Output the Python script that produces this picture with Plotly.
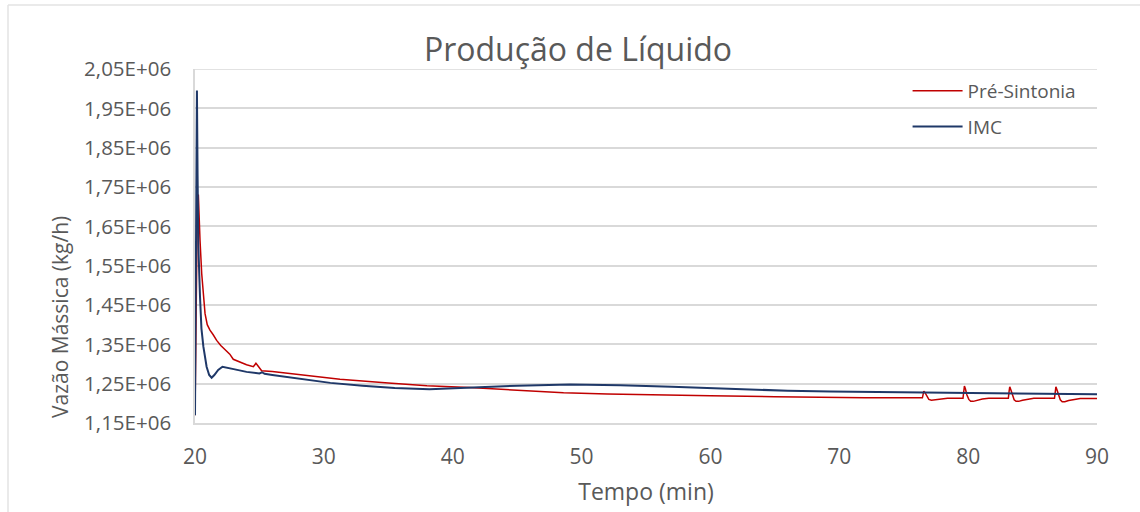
import plotly.graph_objects as go

# Tempo (min) e vazão mássica (kg/h) - controlador com pré-sintonia
t_pre = [20.0, 20.08, 20.18, 20.26, 20.33, 20.39, 20.52, 20.65, 20.78, 20.95, 21.16, 21.4, 21.68, 22.0,
         22.46, 22.7, 22.97, 23.5, 24.0, 24.53, 24.65, 24.73, 24.85, 25.0, 25.17, 26.0, 28.0, 31.25,
         35.0, 38.0, 41.3, 45.0, 48.6, 52.0, 56.0, 60.0, 65.0, 69.3, 72.0,
         76.45, 76.5, 76.56, 76.64, 76.78, 76.95, 77.15, 77.45, 77.9, 78.4,
         79.6, 79.66, 79.71, 79.78, 79.9, 80.05, 80.2, 80.4, 80.7, 81.1, 81.6,
         83.12, 83.18, 83.23, 83.3, 83.42, 83.57, 83.72, 83.92, 84.22, 84.6, 85.1,
         86.7, 86.76, 86.81, 86.88, 87.0, 87.15, 87.3, 87.5, 87.8, 88.2, 88.7, 90.0]
v_pre = [1.17e6, 1.50e6, 1.70e6, 1.731e6, 1.66e6, 1.614e6, 1.53e6, 1.47e6, 1.428e6, 1.40e6, 1.386e6, 1.375e6, 1.36e6, 1.347e6,
         1.331e6, 1.325e6, 1.312e6, 1.304e6, 1.298e6, 1.293e6, 1.297e6, 1.302e6, 1.297e6, 1.289e6, 1.283e6, 1.281e6, 1.273e6, 1.261e6,
         1.252e6, 1.245e6, 1.240e6, 1.233e6, 1.227e6, 1.224e6, 1.221e6, 1.219e6, 1.217e6, 1.215e6, 1.2145e6,
         1.214e6, 1.224e6, 1.231e6, 1.228e6, 1.218e6, 1.210e6, 1.208e6, 1.209e6, 1.211e6, 1.213e6,
         1.213e6, 1.232e6, 1.244e6, 1.238e6, 1.222e6, 1.210e6, 1.205e6, 1.205e6, 1.208e6, 1.211e6, 1.213e6,
         1.213e6, 1.231e6, 1.242e6, 1.236e6, 1.221e6, 1.209e6, 1.205e6, 1.205e6, 1.208e6, 1.211e6, 1.213e6,
         1.213e6, 1.231e6, 1.242e6, 1.236e6, 1.221e6, 1.209e6, 1.204e6, 1.204e6, 1.207e6, 1.210e6, 1.212e6, 1.212e6]

# Tempo (min) e vazão mássica (kg/h) - controlador IMC
t_imc = [20.0, 20.15, 20.2, 20.26, 20.39, 20.5, 20.65, 20.9, 21.1, 21.29, 21.5, 21.8, 22.13,
         22.5, 23.0, 24.0, 25.0, 25.2, 25.4, 26.0, 28.0, 30.5, 33.0, 35.5, 38.2,
         41.3, 45.0, 49.1, 53.0, 57.0, 62.0, 66.0, 69.3, 75.0, 80.0, 85.0, 90.0]
v_imc = [1.17e6, 1.995e6, 1.78e6, 1.60e6, 1.47e6, 1.39e6, 1.344e6, 1.293e6, 1.272e6, 1.265e6, 1.272e6, 1.285e6, 1.293e6,
         1.291e6, 1.287e6, 1.280e6, 1.276e6, 1.279e6, 1.275e6, 1.272e6, 1.263e6, 1.252e6, 1.245e6, 1.239e6, 1.236e6,
         1.240e6, 1.245e6, 1.248e6, 1.246e6, 1.242e6, 1.236e6, 1.232e6, 1.230e6, 1.228e6, 1.226e6, 1.224e6, 1.223e6]

x_ticks = [20, 30, 40, 50, 60, 70, 80, 90]
y_ticks = [1.15e6, 1.25e6, 1.35e6, 1.45e6, 1.55e6, 1.65e6, 1.75e6, 1.85e6, 1.95e6, 2.05e6]
y_ticktext = [f"{v / 1e6:.2f}".replace(".", ",") + "E+06" for v in y_ticks]

FONT = "Open Sans"
GREY = "#595959"
GRID = "#d9d9d9"

fig = go.Figure()
fig.add_trace(go.Scatter(x=t_pre, y=v_pre, mode="lines", name="Pré-Sintonia",
                         line=dict(color="#c00000", width=1.5), legendgroup="a"))
fig.add_trace(go.Scatter(x=t_imc, y=v_imc, mode="lines", name="IMC",
                         line=dict(color="#1f3868", width=2), legendgroup="b"))

fig.update_layout(
    width=1140, height=512,
    margin=dict(l=195, r=43, t=69, b=89),
    paper_bgcolor="white", plot_bgcolor="white",
    font=dict(family=FONT, color=GREY, size=20),
    title=dict(text="Produção de Líquido", x=0.507, xanchor="center",
               y=1 - 50 / 512, yanchor="middle", yref="container",
               font=dict(family=FONT, size=32, color=GREY)),
    legend=dict(x=0.79, y=0.992, xanchor="left", yanchor="top",
                bgcolor="rgba(0,0,0,0)", font=dict(size=19, color=GREY),
                tracegroupgap=8, itemwidth=50),
    xaxis=dict(range=[20, 90], tickvals=x_ticks, showgrid=False,
               showline=True, linecolor=GRID, linewidth=1.5,
               ticks="outside", ticklen=14, tickcolor="rgba(0,0,0,0)",
               tickfont=dict(size=21, color=GREY), zeroline=False,
               title=dict(text="Tempo (min)", font=dict(size=23, color=GREY), standoff=15)),
    yaxis=dict(range=[1.15e6, 2.05e6], tickvals=y_ticks, ticktext=y_ticktext,
               showgrid=True, gridcolor=GRID, gridwidth=1.5,
               showline=True, linecolor=GRID, linewidth=1.5,
               ticks="outside", ticklen=18, tickcolor="rgba(0,0,0,0)",
               tickfont=dict(size=20.5, color=GREY), zeroline=False),
    annotations=[dict(text="Vazão Mássica (kg/h)", textangle=-90,
                      xref="paper", yref="paper", x=(60 - 195) / 902, y=(423 - 317) / 354,
                      xanchor="center", yanchor="middle", showarrow=False,
                      font=dict(family=FONT, size=21, color=GREY))],
    shapes=[
        dict(type="line", xref="paper", yref="paper",
             x0=(8 - 195) / 902, x1=(8 - 195) / 902, y0=(423 - 5) / 354, y1=(423 - 530) / 354,
             line=dict(color="#e3e3e3", width=1.5)),
        dict(type="line", xref="paper", yref="paper",
             x0=(8 - 195) / 902, x1=(1150 - 195) / 902, y0=(423 - 5) / 354, y1=(423 - 5) / 354,
             line=dict(color="#e3e3e3", width=1.5)),
        dict(type="line", xref="paper", yref="y",
             x0=0, x1=1, y0=2.05e6, y1=2.05e6, layer="below",
             line=dict(color=GRID, width=1.5)),
    ],
    showlegend=True,
)

fig.write_html("out.html")
